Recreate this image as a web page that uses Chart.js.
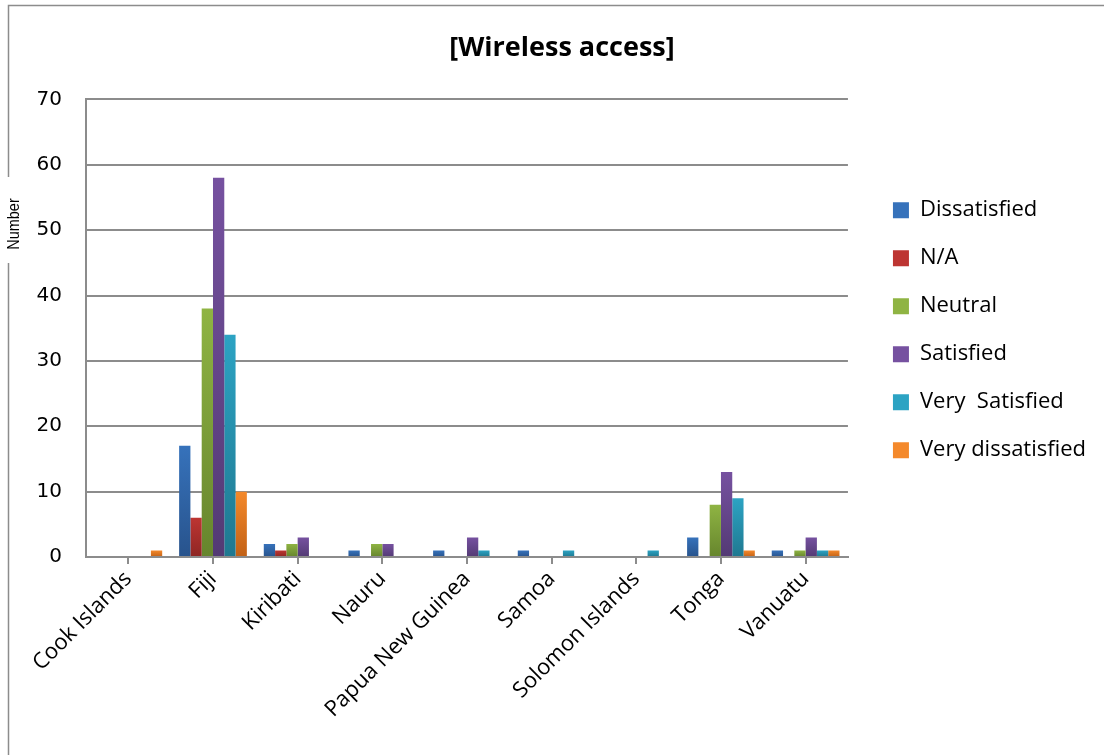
<!DOCTYPE html>
<html>
<head>
<meta charset="utf-8">
<title>Wireless access</title>
<script src="https://cdn.jsdelivr.net/npm/chart.js@4.4.1/dist/chart.umd.min.js"></script>
<style>
  html, body { margin: 0; padding: 0; background: #fff; }
  #wrap { width: 1104px; height: 755px; position: relative; }
</style>
</head>
<body>
<div id="wrap"><canvas id="myChart" width="1104" height="755"></canvas></div>
<script>
var countries = ['Cook Islands', 'Fiji', 'Kiribati', 'Nauru', 'Papua New Guinea', 'Samoa', 'Solomon Islands', 'Tonga', 'Vanuatu'];

var dissatisfied     = [0, 17, 2, 1, 1, 1, 0, 3, 1];
var notApplicable    = [0, 6, 1, 0, 0, 0, 0, 0, 0];
var neutral          = [0, 38, 2, 2, 0, 0, 0, 8, 1];
var satisfied        = [0, 58, 3, 2, 3, 0, 0, 13, 3];
var verySatisfied    = [0, 34, 0, 0, 1, 1, 1, 9, 1];
var veryDissatisfied = [1, 10, 0, 0, 0, 0, 0, 1, 1];

var yTicks = [0, 10, 20, 30, 40, 50, 60, 70];

// light top / dark bottom for each bar, like the office gradient fill
function barFill(light, dark) {
  return function (ctx) {
    var chart = ctx.chart;
    var y = chart.scales && chart.scales.y;
    if (ctx.type !== 'data' || !chart.chartArea || !y) return light;
    var top = y.getPixelForValue(ctx.parsed.y);
    var bottom = y.getPixelForValue(0);
    if (!(bottom - top > 0)) return light;
    var g = chart.ctx.createLinearGradient(0, top, 0, bottom);
    g.addColorStop(0, light);
    g.addColorStop(1, dark);
    return g;
  };
}

function series(label, values, light, dark) {
  return {
    label: label,
    data: values,
    backgroundColor: barFill(light, dark),
    borderWidth: 0,
    categoryPercentage: 0.8,
    barPercentage: 1.0
  };
}

// outer frame, the narrow "Number" axis caption sitting in a gap of it,
// and a few nudges to the legend / title boxes after layout
var framePlugin = {
  id: 'frame',
  beforeDraw: function (chart) {
    var c = chart.ctx;
    c.save();
    c.fillStyle = '#fff';
    c.fillRect(0, 0, chart.width, chart.height);
    c.strokeStyle = '#8c8c8c';
    c.lineWidth = 1.5;
    c.beginPath();
    c.moveTo(1104, 5.5); c.lineTo(8.5, 5.5); c.lineTo(8.5, 177);
    c.moveTo(8.5, 263); c.lineTo(8.5, 755);
    c.stroke();

    c.translate(14, 224);
    c.rotate(-Math.PI / 2);
    c.scale(0.85, 1);
    c.fillStyle = '#000';
    c.font = '17px "Liberation Sans"';
    c.textAlign = 'center';
    c.textBaseline = 'middle';
    c.fillText('Number', 0, 0);
    c.restore();
  },
  afterLayout: function (chart) {
    var area = chart.chartArea;
    var lg = chart.legend;
    if (lg) {
      lg.left += 19;
      lg.right = chart.width + 40;
      lg.top = area.top + 2;
      lg.bottom = area.bottom + 2;
      lg.height = area.bottom - area.top;
    }
    if (chart.titleBlock) {
      chart.titleBlock.left = 20;
      chart.titleBlock.right = chart.width;
    }
  }
};

new Chart(document.getElementById('myChart'), {
  type: 'bar',
  data: {
    labels: countries,
    datasets: [
      series('Dissatisfied', dissatisfied, '#3672bb', '#28538c'),
      series('N/A', notApplicable, '#bd3532', '#8e2623'),
      series('Neutral', neutral, '#8fb443', '#66852d'),
      series('Satisfied', satisfied, '#7651a0', '#533a74'),
      series('Very  Satisfied', verySatisfied, '#2ca3c3', '#1f7890'),
      series('Very dissatisfied', veryDissatisfied, '#f4892b', '#c26116')
    ]
  },
  options: {
    responsive: false,
    animation: false,
    devicePixelRatio: 1,
    layout: { padding: { left: 0, right: 27, top: 0, bottom: 0 } },
    plugins: {
      title: {
        display: true,
        text: '[Wireless access]',
        color: '#000',
        font: { family: 'Open Sans', size: 27, weight: 'bold' },
        padding: { top: 32, bottom: 35 }
      },
      legend: {
        position: 'right',
        labels: {
          color: '#000',
          font: { family: 'Open Sans', size: 22 },
          boxWidth: 16,
          boxHeight: 16,
          padding: 26
        }
      },
      tooltip: { enabled: false }
    },
    scales: {
      x: {
        grid: {
          drawOnChartArea: false,
          offset: false,
          color: '#8c8c8c',
          lineWidth: 2,
          tickLength: 7
        },
        border: { color: '#8c8c8c', width: 2 },
        ticks: {
          color: '#000',
          font: { family: 'Open Sans', size: 22 },
          minRotation: 45,
          maxRotation: 45,
          padding: 2
        },
        afterFit: function (scale) { scale.height = 198; }
      },
      y: {
        min: 0,
        max: 70,
        afterBuildTicks: function (scale) {
          scale.ticks = yTicks.map(function (v) { return { value: v }; });
        },
        grid: { color: '#8c8c8c', lineWidth: 2, drawTicks: false },
        border: { color: '#8c8c8c', width: 2 },
        ticks: {
          color: '#000',
          font: { family: 'DejaVu Sans', size: 20 },
          padding: 24
        },
        afterFit: function (scale) { scale.width = 86; }
      }
    }
  },
  plugins: [framePlugin]
});
</script>
</body>
</html>
